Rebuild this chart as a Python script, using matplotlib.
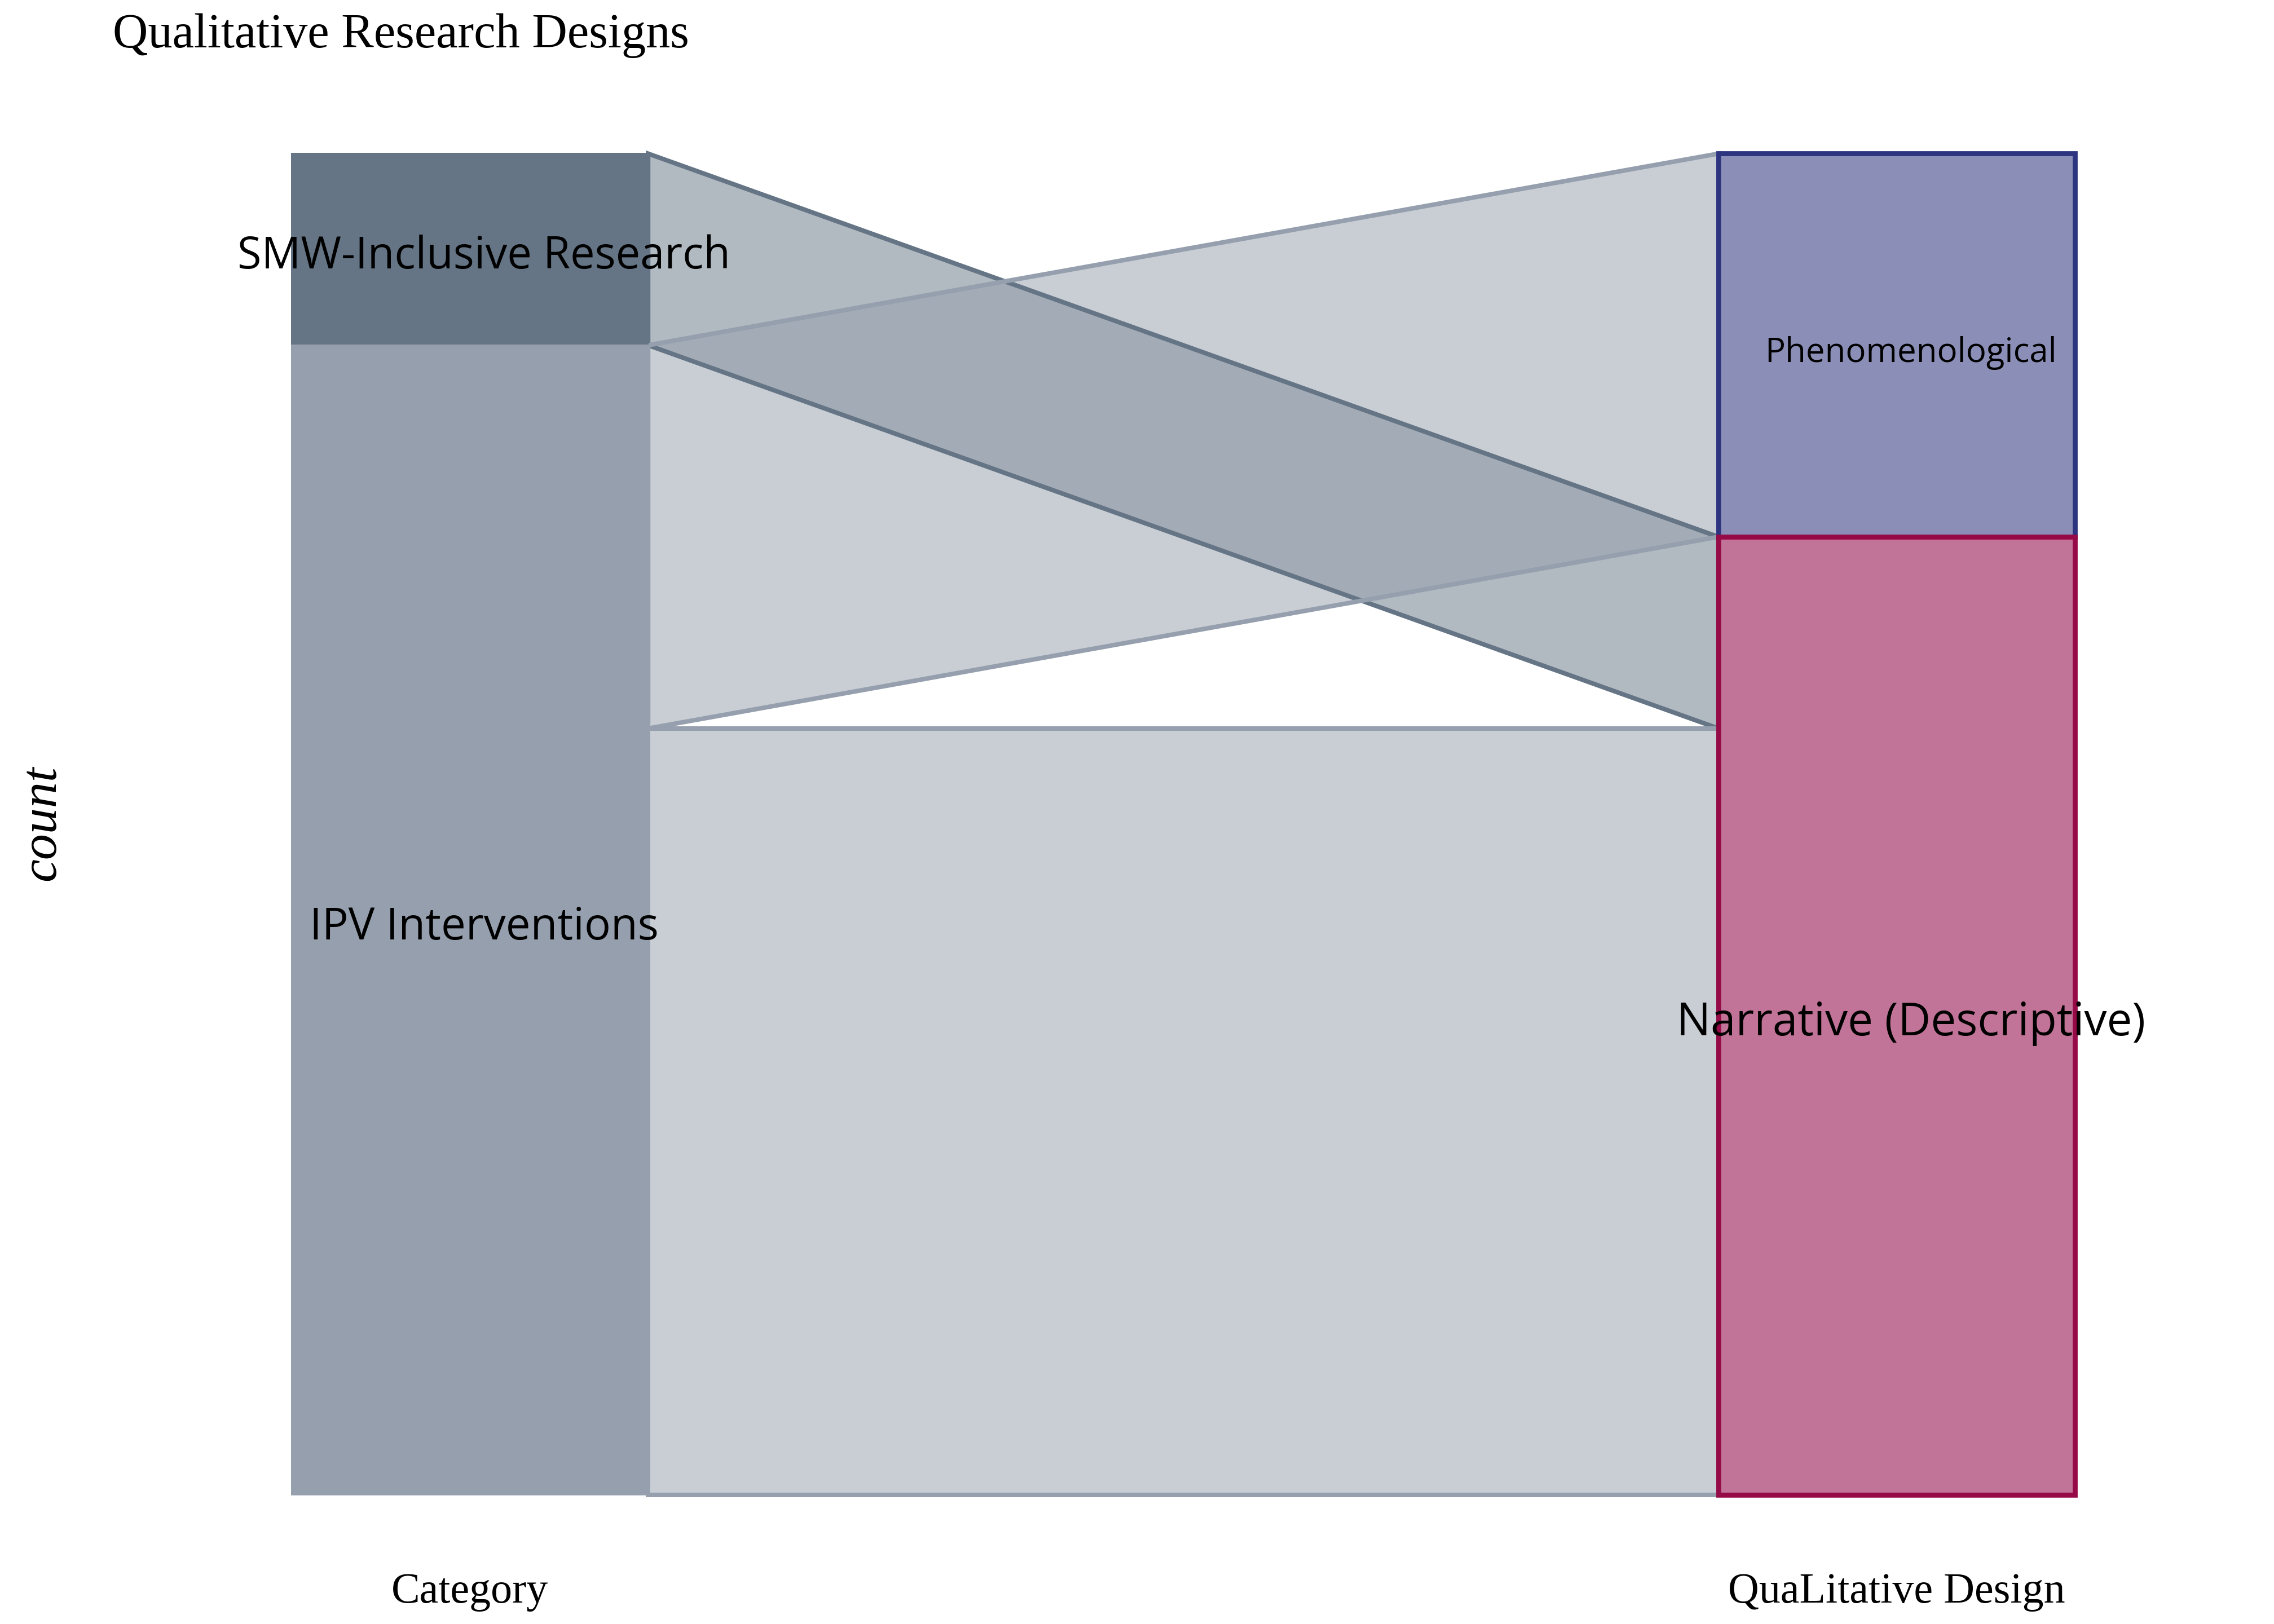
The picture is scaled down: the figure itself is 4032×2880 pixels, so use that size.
import matplotlib
matplotlib.use('Agg')
import matplotlib.pyplot as plt
from matplotlib.patches import Polygon, Rectangle
from matplotlib.transforms import blended_transform_factory

# strata, listed top to bottom on each axis
categories = ['SMW-Inclusive Research', 'IPV Interventions']
designs = ['Phenomenological', 'Narrative (Descriptive)']
# flows: (category, design, count)
flows = [
    ('SMW-Inclusive Research', 'Narrative (Descriptive)', 1),
    ('IPV Interventions', 'Phenomenological', 2),
    ('IPV Interventions', 'Narrative (Descriptive)', 4),
]
axis_labels = ['Category', 'QuaLitative Design']

cat_fill = {'SMW-Inclusive Research': '#657585', 'IPV Interventions': '#959fad'}
des_fill = {'Phenomenological': '#8b8fb7', 'Narrative (Descriptive)': '#c17497'}
des_edge = {'Phenomenological': '#2e3580', 'Narrative (Descriptive)': '#960a47'}
label_size = {'SMW-Inclusive Research': 19.4, 'IPV Interventions': 19.5,
              'Phenomenological': 15, 'Narrative (Descriptive)': 20}

w = 0.25  # stratum width
total = sum(f[2] for f in flows)


def stack(order, key_idx, sort_idx, sort_order):
    """Return {stratum: (top, bottom)} and per-flow (top, bottom) on one axis."""
    strata = {}
    flow_pos = {}
    top = total
    for s in order:
        members = [f for f in flows if f[key_idx] == s]
        members.sort(key=lambda f: sort_order.index(f[sort_idx]))
        s_top = top
        for f in members:
            flow_pos[f] = (top, top - f[2])
            top -= f[2]
        strata[s] = (s_top, top)
    return strata, flow_pos


left_strata, left_flow = stack(categories, 0, 1, designs)
right_strata, right_flow = stack(designs, 1, 0, categories)

fig = plt.figure(figsize=(14, 10), dpi=288)
ax = fig.add_axes([0.0497, 0.0795, 0.9413, 0.8259])
ax.set_xlim(0.75, 2.25)
ax.set_ylim(0, total)
ax.axis('off')

x0 = 1 + w / 2
x1 = 2 - w / 2
# flows (SMW first so IPV flows sit on top)
for f in flows:
    lt, lb = left_flow[f]
    rt, rb = right_flow[f]
    pts = [(x0, lt), (x1, rt), (x1, rb), (x0, lb)]
    ax.add_patch(Polygon(pts, closed=True, facecolor=cat_fill[f[0]], alpha=0.5,
                         edgecolor='none', zorder=1, clip_on=False))
    ax.add_patch(Polygon(pts, closed=True, facecolor='none',
                         edgecolor=cat_fill[f[0]], lw=2, zorder=2, clip_on=False))

dy = -0.04  # nudge labels down a little
# left strata
for s in categories:
    t, b = left_strata[s]
    ax.add_patch(Rectangle((1 - w / 2, b), w, t - b, facecolor=cat_fill[s],
                           edgecolor=cat_fill[s], lw=0.5, zorder=3, clip_on=False))
    ax.text(1.01, (t + b) / 2 + dy, s, ha='center', va='center',
            fontsize=label_size[s], family='Open Sans', zorder=5)

# right strata
for s in designs:
    t, b = right_strata[s]
    ax.add_patch(Rectangle((2 - w / 2, b), w, t - b, facecolor=des_fill[s],
                           edgecolor=des_edge[s], lw=2.2, zorder=3, clip_on=False))
    ax.text(2.01, (t + b) / 2 + dy, s, ha='center', va='center',
            fontsize=label_size[s], family='Open Sans', zorder=5)

trans = blended_transform_factory(ax.transData, fig.transFigure)
for i, lab in enumerate(axis_labels):
    ax.text(i + 1, 0.0196, lab, transform=trans, ha='center', va='center',
            fontsize=19, family='Liberation Serif')

fig.text(0.0185, 0.493, 'count', rotation=90, ha='center', va='center',
         fontsize=23, family='Liberation Serif', style='italic')
fig.text(0.0497, 0.978, 'Qualitative Research Designs', ha='left', va='center',
         fontsize=21.6, family='Liberation Serif')

fig.savefig('out.png', dpi=288)
plt.close(fig)
